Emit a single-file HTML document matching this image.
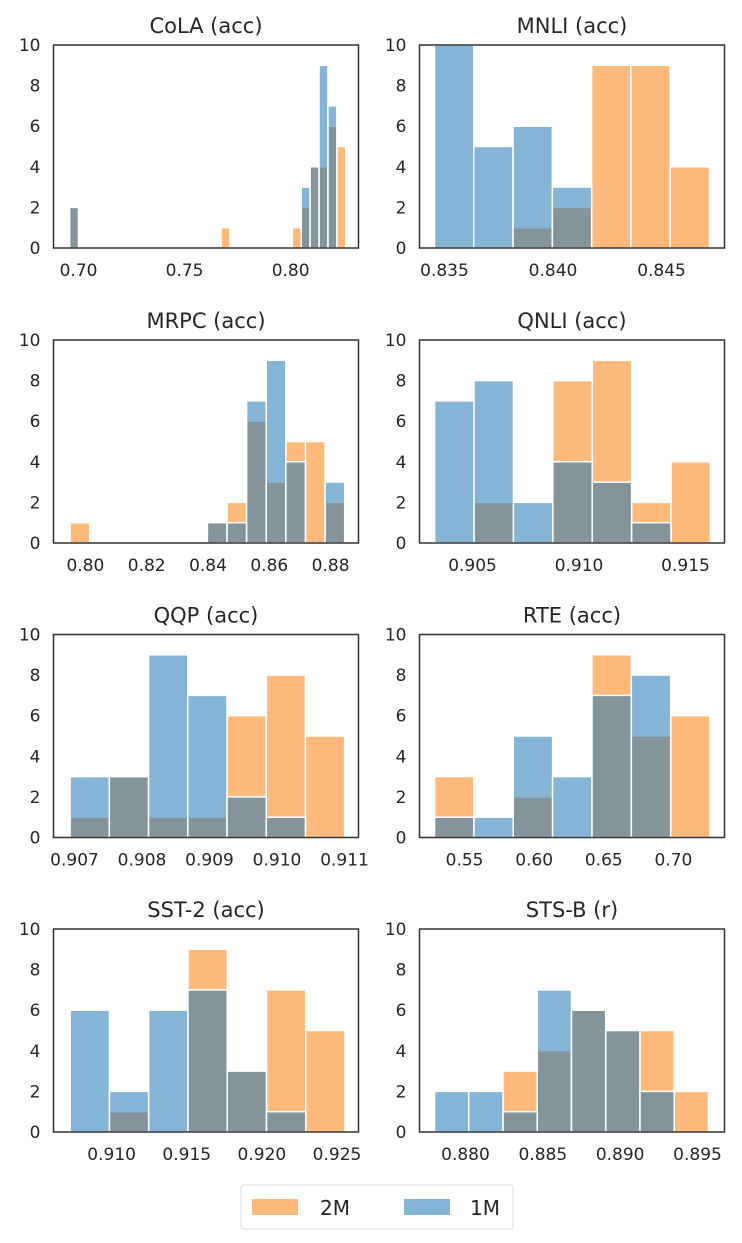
<!DOCTYPE html>
<html><head><meta charset="utf-8"><style>
html,body{margin:0;padding:0;background:#fff;}
svg{display:block;font-family:"DejaVu Sans","Liberation Sans",sans-serif;}
</style></head><body>
<svg id="chart" width="742" height="1243" viewBox="0 0 742 1243" xmlns="http://www.w3.org/2000/svg">
<g>
<rect x="241" y="1185" width="272" height="44" fill="#fff" stroke="#ddd" stroke-width="1" rx="3"/>
<rect x="252" y="1199" width="46" height="16" fill="#ff7f0e" fill-opacity="0.55"/>
<text x="320" y="1215" font-size="20" fill="#262626">2M</text>
<rect x="404" y="1199" width="46" height="16" fill="#1f77b4" fill-opacity="0.55"/>
<text x="470" y="1215" font-size="20" fill="#262626">1M</text>
</g>
</svg>
<script>
// Panel data (values per panel)
const titles = ["CoLA (acc)","MNLI (acc)","MRPC (acc)","QNLI (acc)","QQP (acc)","RTE (acc)","SST-2 (acc)","STS-B (r)"];
const xDomains = [[0.6882,0.832],[0.83385,0.8479],[0.7896,0.8891],[0.90251,0.91683],[0.906689,0.911207],[0.51763,0.7367],[0.90613,0.92643],[0.877027,0.896745]];
const binStarts = [0.6958,0.83454,0.795,0.90322,0.906935,0.52842,0.90724,0.877996];
const binWidths = [0.0042,0.00181,0.0064,0.00185,0.000581,0.02827,0.002613,0.002214];
const counts2M = [
 [2,0,0,0,0,0,0,0,0,0,0,0,0,0,0,0,0,1,0,0,0,0,0,0,0,1,2,4,4,6,5],
 [0,0,1,2,9,9,4],
 [1,0,0,0,0,0,0,1,2,6,3,5,5,2],
 [0,2,0,8,9,2,4],
 [1,3,1,1,6,8,5],
 [3,0,2,0,9,5,6],
 [0,1,0,9,3,7,5],
 [0,0,3,4,6,5,5,2]
];
const counts1M = [
 [2,0,0,0,0,0,0,0,0,0,0,0,0,0,0,0,0,0,0,0,0,0,0,0,0,0,3,4,9,7,0],
 [10,5,6,3,0,0,0],
 [0,0,0,0,0,0,0,1,1,7,9,4,0,3],
 [7,8,2,4,3,1,0],
 [3,3,9,7,2,1,0],
 [1,1,5,3,7,8,0],
 [6,2,6,7,3,1,0],
 [2,2,1,7,6,5,2,0]
];
const xTicks = [
 [0.70,0.75,0.80],[0.835,0.840,0.845],[0.80,0.82,0.84,0.86,0.88],[0.905,0.910,0.915],
 [0.907,0.908,0.909,0.910,0.911],[0.55,0.60,0.65,0.70],[0.910,0.915,0.920,0.925],[0.880,0.885,0.890,0.895]
];
const xTickLabels = [
 ["0.70","0.75","0.80"],["0.835","0.840","0.845"],["0.80","0.82","0.84","0.86","0.88"],["0.905","0.910","0.915"],
 ["0.907","0.908","0.909","0.910","0.911"],["0.55","0.60","0.65","0.70"],["0.910","0.915","0.920","0.925"],["0.880","0.885","0.890","0.895"]
];
const yTicks = [0,2,4,6,8,10];

const NS="http://www.w3.org/2000/svg";
const svg=document.getElementById('chart');
const colLeft=[53.5,419.5], W=305, H=203;
const rowTop=[45,340,634.5,929];
function mk(tag,attrs,parent){const e=document.createElementNS(NS,tag);for(const k in attrs)e.setAttribute(k,attrs[k]);parent.appendChild(e);return e;}

titles.forEach((t,i)=>{
  const L=colLeft[i%2], T=rowTop[Math.floor(i/2)], B=T+H;
  const g=mk('g',{},svg);
  
  
  const [d0,d1]=xDomains[i];
  const xs=v=>L+(v-d0)/(d1-d0)*W;
  const ys=v=>B-v/10*H;
  const title=mk('text',{x:L+W/2,y:T-12,'font-size':21,'text-anchor':'middle',fill:'#262626'},g);
  title.textContent=t;
  
  
  [[counts2M[i],'#ff7f0e','bar-2m'],[counts1M[i],'#1f77b4','bar-1m']].forEach(([arr,col,name])=>{
    arr.forEach((c,k)=>{
      if(!c)return;
      const x0=xs(binStarts[i]+k*binWidths[i]), x1=xs(binStarts[i]+(k+1)*binWidths[i]);
      const r=mk('rect',{x:x0,y:ys(c),width:x1-x0,height:ys(0)-ys(c),fill:col,'fill-opacity':0.55,stroke:'#fff','stroke-width':1.5},g);
      
      
    });
  });
  const fr=mk('rect',{x:L,y:T,width:W,height:H,fill:'none',stroke:'#333','stroke-width':1.5},g);
  
  
  yTicks.forEach(v=>{
    const tx=mk('text',{x:L-13,y:ys(v)+6,'font-size':17,'text-anchor':'end',fill:'#262626'},g);
    tx.textContent=String(v);
    
    
  });
  xTicks[i].forEach((v,k)=>{
    const tx=mk('text',{x:xs(v),y:B+28,'font-size':17,'text-anchor':'middle',fill:'#262626'},g);
    tx.textContent=xTickLabels[i][k];
    
    
  });
});
</script>
</body></html>
